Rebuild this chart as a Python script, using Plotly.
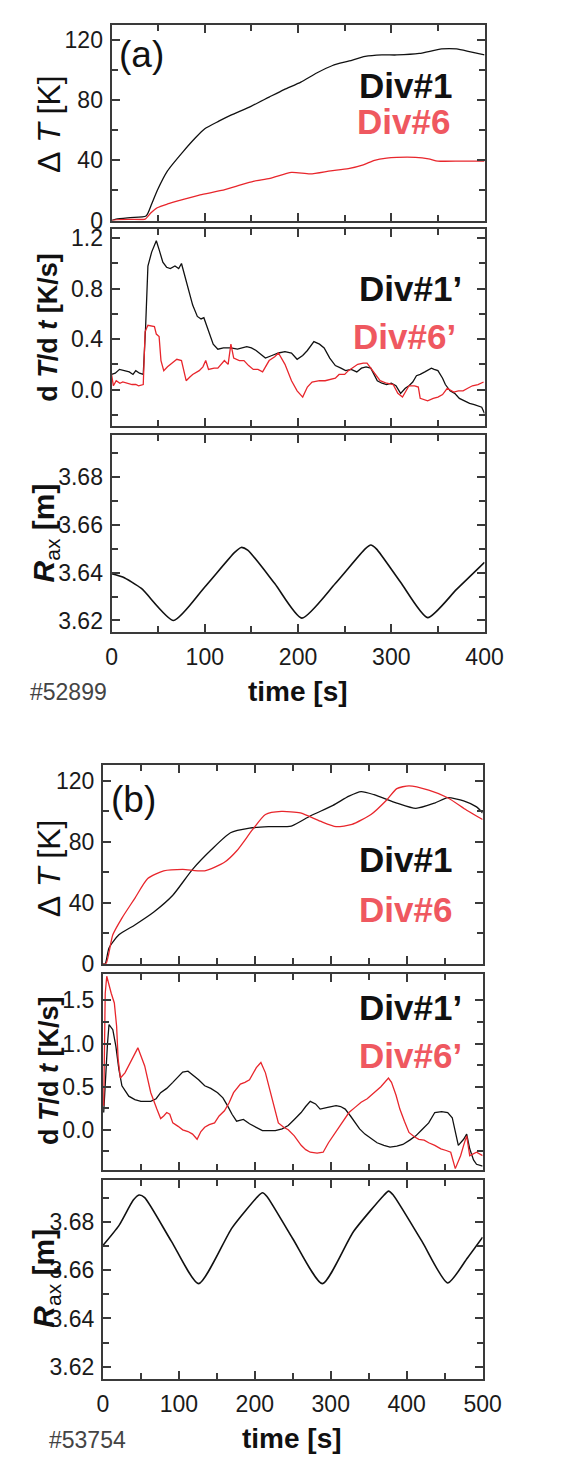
import plotly.graph_objects as go

W, H = 573, 1459

# ---------------- data: shot #52899 (a) ----------------
a_dT1_t = [0, 5, 20, 37, 43, 49, 60, 77, 90, 100, 115, 128, 150, 169, 185, 203, 220, 237, 255, 272, 290, 306, 330, 354, 370, 385, 400]
a_dT1_v = [0, 1, 2, 3, 11, 20, 33, 46, 55, 61, 66, 70, 76, 82, 87, 92, 98, 103, 106, 109, 110, 110, 111, 114, 114, 112, 110]
a_dT6_t = [0, 5, 20, 36, 42, 49, 60, 77, 95, 118, 135, 152, 170, 193, 213, 235, 254, 270, 282, 295, 306, 326, 340, 350, 375, 400]
a_dT6_v = [0, 0.5, 0.8, 1, 5, 8.5, 11, 14, 17, 20, 23, 26, 28, 32, 31, 33, 34.5, 37, 40, 41.5, 42, 42, 41, 39.5, 39.5, 39.5]

a_d1_t = [0, 4, 8.5, 13, 19, 23, 26, 30, 34, 36.5, 39, 43, 48, 51, 55, 59, 63, 68, 72, 75, 78, 82, 87, 92, 96, 99, 104, 109, 114, 120, 128, 135, 145, 150, 155, 160, 165, 172, 179, 186, 193, 199, 205, 210, 217, 223, 228, 234, 240, 246, 251, 257, 263, 268, 273, 278, 285, 290, 295, 300, 305, 310, 315, 319, 323, 327, 331, 336, 343, 346, 350, 355, 358, 363, 368, 373, 378, 384, 389, 394, 397, 400]
a_d1_v = [0.12, 0.13, 0.16, 0.15, 0.14, 0.12, 0.15, 0.13, 0.12, 0.49, 0.98, 1.09, 1.18, 1.11, 1.01, 0.97, 0.96, 0.98, 0.96, 1.00, 0.92, 0.80, 0.67, 0.58, 0.56, 0.57, 0.46, 0.36, 0.32, 0.33, 0.33, 0.32, 0.34, 0.33, 0.31, 0.28, 0.25, 0.27, 0.29, 0.30, 0.29, 0.24, 0.27, 0.31, 0.38, 0.36, 0.33, 0.25, 0.19, 0.17, 0.15, 0.16, 0.14, 0.17, 0.18, 0.17, 0.07, 0.05, 0.04, 0.05, 0.03, -0.03, 0.01, 0.03, 0.06, 0.11, 0.12, 0.14, 0.17, 0.16, 0.15, 0.09, 0.04, -0.01, -0.03, -0.07, -0.09, -0.11, -0.12, -0.13, -0.14, -0.19]
a_d6_t = [0, 2, 5, 9, 12, 17, 22, 26, 29, 34, 36, 39, 46, 48, 51, 53, 56, 60, 63, 70, 75, 80, 84, 87, 94, 98, 101, 104, 110, 114, 121, 125, 128, 131, 137, 142, 147, 152, 157, 162, 169, 175, 179, 186, 193, 199, 205, 210, 215, 223, 229, 234, 240, 244, 250, 254, 260, 264, 270, 274, 281, 288, 295, 302, 307, 312, 319, 325, 329, 331, 339, 345, 350, 355, 360, 367, 372, 377, 382, 387, 393, 399]
a_d6_v = [0.12, 0.03, 0.07, 0.05, 0.06, 0.05, 0.04, 0.04, 0.03, 0.04, 0.46, 0.51, 0.50, 0.44, 0.42, 0.23, 0.15, 0.18, 0.20, 0.24, 0.23, 0.07, 0.10, 0.12, 0.15, 0.18, 0.23, 0.16, 0.17, 0.17, 0.23, 0.20, 0.36, 0.25, 0.23, 0.23, 0.19, 0.16, 0.16, 0.14, 0.23, 0.26, 0.29, 0.20, 0.07, -0.01, -0.06, 0.02, 0.06, 0.07, 0.07, 0.08, 0.09, 0.12, 0.12, 0.15, 0.18, 0.20, 0.21, 0.21, 0.14, 0.07, 0.05, 0.04, -0.03, -0.06, 0.03, 0.03, 0.02, -0.07, -0.09, -0.07, -0.06, -0.04, 0.01, -0.02, -0.01, -0.01, 0.01, 0.03, 0.04, 0.06]

a_R_t = [0, 12, 32, 66.5, 100, 132, 139, 146, 175, 204, 240, 272, 278, 284, 310, 339, 370, 400]
a_R_v = [3.6396, 3.6382, 3.6334, 3.6200, 3.6340, 3.6485, 3.6506, 3.6495, 3.6355, 3.6210, 3.6355, 3.6500, 3.6516, 3.6500, 3.6360, 3.6212, 3.6330, 3.6444]

# ---------------- data: shot #53754 (b) ----------------
b_dT1_t = [0, 3, 8, 21, 42, 67, 92, 118, 143, 168, 193, 218, 248, 273, 303, 324, 340, 357, 387, 412, 437, 454, 475, 492, 500]
b_dT1_v = [0, 0, 10.4, 19, 25.5, 34, 45, 62, 75, 86, 89, 90, 90.4, 97, 104, 110, 113, 111, 105.5, 102, 105.5, 109, 107, 103, 99]
b_dT6_t = [0, 4, 13, 25, 42, 59, 80, 105, 134, 160, 176, 197, 214, 235, 260, 286, 307, 328, 353, 374, 387, 403, 429, 454, 479, 500]
b_dT6_v = [0, 0, 19, 30, 43, 56, 61, 62, 61, 66.6, 74, 88, 98, 100, 99, 93.6, 90, 91.5, 98, 107.7, 115, 116.8, 114, 109, 100.8, 94.7]

b_d1_t = [1, 3, 6, 8, 13, 17, 21, 25, 34, 42, 50, 63, 70, 76, 84, 92, 98, 105, 112, 118, 126, 134, 142, 151, 158, 164, 170, 176, 185, 193, 202, 210, 218, 227, 236, 244, 252, 261, 267, 273, 280, 286, 296, 307, 313, 319, 326, 332, 338, 345, 353, 361, 370, 378, 387, 395, 404, 412, 420, 429, 437, 446, 454, 460, 468, 475, 479, 483, 488, 492, 500]
b_d1_v = [0.2, 0.58, 1.0, 1.22, 1.16, 0.97, 0.70, 0.51, 0.39, 0.35, 0.33, 0.33, 0.36, 0.43, 0.48, 0.55, 0.61, 0.67, 0.68, 0.64, 0.58, 0.51, 0.48, 0.43, 0.37, 0.28, 0.18, 0.10, 0.12, 0.07, 0.03, -0.01, -0.01, -0.01, 0.01, 0.05, 0.12, 0.20, 0.27, 0.33, 0.30, 0.24, 0.26, 0.28, 0.27, 0.24, 0.16, 0.08, 0.01, -0.05, -0.10, -0.15, -0.18, -0.20, -0.19, -0.17, -0.12, -0.07, 0.00, 0.08, 0.20, 0.21, 0.20, 0.14, -0.18, -0.11, -0.05, -0.22, -0.35, -0.40, -0.42]
b_d6_t = [1, 3, 5, 8, 11, 15, 18, 20, 23, 29, 38, 46, 55, 63, 71, 76, 80, 84, 88, 92, 99, 105, 112, 118, 124, 129, 134, 140, 147, 153, 160, 166, 172, 181, 187, 193, 202, 208, 214, 223, 231, 238, 244, 252, 261, 267, 273, 282, 290, 297, 303, 313, 324, 332, 340, 348, 357, 366, 376, 380, 386, 391, 397, 403, 410, 416, 423, 429, 437, 445, 452, 458, 464, 471, 475, 479, 483, 488, 492, 500]
b_d6_v = [0.28, 1.58, 1.78, 1.66, 1.58, 1.47, 1.2, 0.82, 0.60, 0.66, 0.82, 0.95, 0.74, 0.43, 0.24, 0.13, 0.16, 0.20, 0.18, 0.08, 0.04, 0.00, -0.02, -0.05, -0.11, -0.02, 0.03, 0.06, 0.08, 0.16, 0.22, 0.31, 0.43, 0.53, 0.55, 0.58, 0.72, 0.78, 0.66, 0.35, 0.08, 0.03, 0.00, -0.07, -0.18, -0.23, -0.26, -0.27, -0.26, -0.15, -0.07, 0.06, 0.20, 0.26, 0.32, 0.36, 0.43, 0.50, 0.60, 0.55, 0.40, 0.24, 0.10, -0.03, -0.08, -0.11, -0.12, -0.15, -0.18, -0.22, -0.24, -0.26, -0.45, -0.30, -0.18, -0.07, -0.30, -0.28, -0.26, -0.30]

b_R_t = [0, 21, 40, 47.5, 55, 90, 126, 170, 204, 210, 216, 250, 289, 330, 370, 376, 382, 420, 454, 480, 500]
b_R_v = [3.6702, 3.6784, 3.6890, 3.6911, 3.6900, 3.6720, 3.6544, 3.6775, 3.6905, 3.6920, 3.6905, 3.6730, 3.6544, 3.6760, 3.6910, 3.6927, 3.6912, 3.6720, 3.6547, 3.6650, 3.6736]

# tick values / labels
dT_ticks = [0, 40, 80, 120]
a_rate_ticks = [0.0, 0.4, 0.8, 1.2]
b_rate_ticks = [0.0, 0.5, 1.0, 1.5]
R_ticks = [3.62, 3.64, 3.66, 3.68]
a_time_ticks = [0, 100, 200, 300, 400]
b_time_ticks = [0, 100, 200, 300, 400, 500]

BLACK = "#111111"
RED = "#E8262C"
TXT_RED = "#EF5860"
FRAME = "#3a3a3a"
FONT = "Liberation Sans, Arial, sans-serif"


def px(x):
    return x / W


def py(y):
    return 1 - y / H


fig = go.Figure()

series = [
    (a_dT1_t, a_dT1_v, BLACK, 1), (a_dT6_t, a_dT6_v, RED, 1),
    (a_d1_t, a_d1_v, BLACK, 2), (a_d6_t, a_d6_v, RED, 2),
    (a_R_t, a_R_v, BLACK, 3),
    (b_dT1_t, b_dT1_v, BLACK, 4), (b_dT6_t, b_dT6_v, RED, 4),
    (b_d1_t, b_d1_v, BLACK, 5), (b_d6_t, b_d6_v, RED, 5),
    (b_R_t, b_R_v, BLACK, 6),
]
for t, v, c, k in series:
    sfx = "" if k == 1 else str(k)
    shape = "spline" if k in (1, 3, 4, 6) else "linear"
    fig.add_trace(go.Scatter(x=t, y=v, mode="lines", xaxis="x" + sfx, yaxis="y" + sfx,
                             line=dict(color=c, width=1.6 if k in (3, 6) else 1.3, shape=shape, smoothing=0.6),
                             showlegend=False, hoverinfo="skip"))

common = dict(showline=True, linecolor=FRAME, linewidth=2, mirror="allticks", ticks="inside",
              ticklen=8, tickwidth=1.5, tickcolor=FRAME, showgrid=False, zeroline=False,
              tickfont=dict(family=FONT, size=23, color="#1a1a1a"))

a_xdom = [px(102), px(492)]
b_xdom = [px(93), px(490)]
ydoms = [(13, 211), (220, 419), (428, 627), (762, 963), (973, 1172), (1182, 1383)]

layout = dict(width=W, height=H, autosize=False, margin=dict(l=0, r=0, t=0, b=0),
              paper_bgcolor="white", plot_bgcolor="white", showlegend=False)

yspecs = [
    dict(range=[0, 130], tickvals=dT_ticks, minor=dict(tickvals=[20, 60, 100])),
    dict(range=[-0.29, 1.27], tickvals=a_rate_ticks, ticktext=[f"{v:.1f}" for v in a_rate_ticks],
         minor=dict(tickvals=[-0.2, 0.2, 0.6, 1.0])),
    dict(range=[3.6153, 3.6977], tickvals=R_ticks, ticktext=[f"{v:.2f}" for v in R_ticks],
         minor=dict(tickvals=[3.63, 3.65, 3.67, 3.69])),
    dict(range=[0, 130.4], tickvals=dT_ticks, minor=dict(tickvals=[20, 60, 100])),
    dict(range=[-0.47, 1.81], tickvals=b_rate_ticks, ticktext=[f"{v:.1f}" for v in b_rate_ticks],
         minor=dict(tickvals=[-0.25, 0.25, 0.75, 1.25])),
    dict(range=[3.615, 3.6972], tickvals=R_ticks, ticktext=[f"{v:.2f}" for v in R_ticks],
         minor=dict(tickvals=[3.63, 3.65, 3.67, 3.69])),
]

for k in range(1, 7):
    sfx = "" if k == 1 else str(k)
    is_a = k <= 3
    xr = [0, 400] if is_a else [0, 500]
    xt = a_time_ticks if is_a else b_time_ticks
    xminor = [50, 150, 250, 350] if is_a else [50, 150, 250, 350, 450]
    top, bot = ydoms[k - 1]
    xa = dict(common, domain=a_xdom if is_a else b_xdom, range=xr, tickvals=xt,
              anchor="y" + sfx, showticklabels=(k in (3, 6)), ticklabelstandoff=4,
              minor=dict(tickvals=xminor, ticks="inside", ticklen=6, tickwidth=1.5, tickcolor=FRAME, showgrid=False))
    ys = yspecs[k - 1]
    mn = ys.pop("minor")
    ya = dict(common, domain=[py(bot), py(top)], anchor="x" + sfx, ticklabelstandoff=2,
              minor=dict(tickvals=mn["tickvals"], ticks="inside", ticklen=6, tickwidth=1.5, tickcolor=FRAME, showgrid=False),
              **ys)
    layout["xaxis" + sfx] = xa
    layout["yaxis" + sfx] = ya

fig.update_layout(**layout)

ann = []


def text(x, y, s, size, color=BLACK, xanchor="left", angle=0):
    ann.append(dict(xref="paper", yref="paper", x=px(x), y=py(y), text=s, showarrow=False,
                    xanchor=xanchor, yanchor="middle", textangle=angle,
                    font=dict(family=FONT, size=size, color=color)))


# panel letters
text(108, 43, "(a)", 37)
text(99, 797, "(b)", 37)

# series labels
text(359, 74, "<b>Div#1</b>", 35)
text(357, 111, "<b>Div#6</b>", 35, TXT_RED)
text(359, 280, "<b>Div#1’</b>", 35)
text(352, 328, "<b>Div#6’</b>", 35, TXT_RED)
text(359, 857, "<b>Div#1</b>", 35)
text(359, 908, "<b>Div#6</b>", 35, TXT_RED)
text(359, 1007, "<b>Div#1’</b>", 35)
text(359, 1056, "<b>Div#6’</b>", 35, TXT_RED)

# y-axis titles
for yc in (113, 866):
    text(36, yc, "Δ&nbsp;<i>T</i>&nbsp;[K]", 32, "#111111", xanchor="center", angle=-90)
for yc in (319, 1071):
    text(36, yc, "<b>d&nbsp;<i>T</i>/d&nbsp;<i>t</i> [K/s]</b>", 27, "#111111", xanchor="center", angle=-90)
for yc in (527, 1281):
    text(33, yc, "<b><i>R</i></b><sub>ax</sub><b> [m]</b>", 30, "#111111", xanchor="center", angle=-90)

# x titles and shot numbers
text(297, 688, "<b>time [s]</b>", 28, "#111111", xanchor="center")
text(291, 1443, "<b>time [s]</b>", 28, "#111111", xanchor="center")
text(15, 688, "#52899", 23, "#444444")
text(34, 1445, "#53754", 23, "#444444")

fig.update_layout(annotations=ann)
fig.write_html("out.html")
